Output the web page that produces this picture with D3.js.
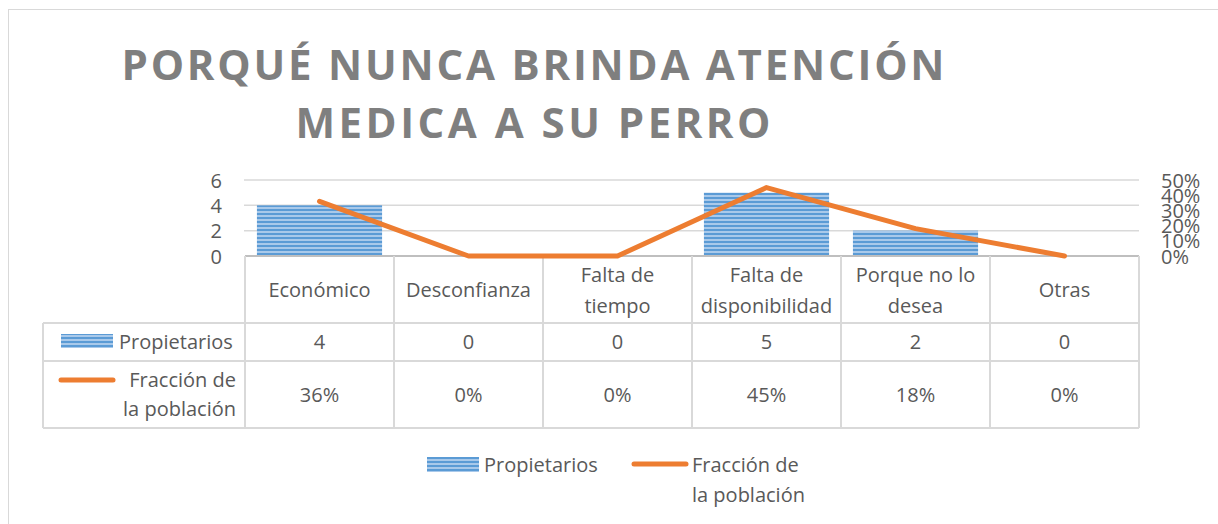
<!DOCTYPE html>
<html>
<head>
<meta charset="utf-8">
<script src="https://cdn.jsdelivr.net/npm/d3@7"></script>
<style>
    body { margin: 0; background: #fff; }
    svg text { font-family: "Open Sans", "Noto Sans", sans-serif; fill: #595959; }
</style>
</head>
<body>
<div id="chart"></div>
<script>
var categories = ['Económico', 'Desconfianza', 'Falta de tiempo', 'Falta de disponibilidad', 'Porque no lo desea', 'Otras'];
var categoryLines = [['Económico'], ['Desconfianza'], ['Falta de', 'tiempo'], ['Falta de', 'disponibilidad'], ['Porque no lo', 'desea'], ['Otras']];
var propietarios = [4, 0, 0, 5, 2, 0];
var fraccion = [0.36, 0, 0, 0.45, 0.18, 0];
var leftTicks = [0, 2, 4, 6];
var rightTicks = [0, 0.1, 0.2, 0.3, 0.4, 0.5];
var titleLines = ['PORQUÉ NUNCA BRINDA ATENCIÓN', 'MEDICA A SU PERRO'];
var seriesNames = ['Propietarios', ['Fracción de', 'la población']];

var width = 1218,
    height = 524,
    plot = { left: 245, right: 1139, top: 180, bottom: 256 },
    tableLeft = 43,
    rows = [256, 323, 361, 428],
    blue = '#5b9bd5',
    orange = '#ed7d31',
    grid = '#d9d9d9',
    fontSize = '20px';

var svg = d3.select('#chart').append('svg')
    .attr('width', width)
    .attr('height', height);

// striped fill for the bars
var pat = svg.append('defs').append('pattern')
    .attr('id', 'stripes')
    .attr('patternUnits', 'userSpaceOnUse')
    .attr('width', 8).attr('height', 4);
pat.append('rect').attr('width', 8).attr('height', 4).attr('fill', '#a9c9ea');
pat.append('rect').attr('y', 1).attr('width', 8).attr('height', 2).attr('fill', blue);

// chart frame
svg.append('rect')
    .attr('x', 8.5).attr('y', 9.5)
    .attr('width', 1240).attr('height', 540)
    .attr('fill', 'none').attr('stroke', grid).attr('stroke-width', 1);

// title
svg.selectAll('.title')
    .data(titleLines)
    .enter().append('text')
    .attr('class', 'title')
    .attr('x', 533)
    .attr('y', function (d, i) { return 80 + i * 58; })
    .attr('text-anchor', 'middle')
    .attr('textLength', function (d, i) { return i === 0 ? 823 : 475; })
    .attr('lengthAdjust', 'spacing')
    .style('font-size', '42px')
    .style('font-weight', 700)
    .style('fill', '#7f7f7f')
    .text(function (d) { return d; });

var xScale = d3.scaleBand().domain(categories).range([plot.left, plot.right]).paddingInner(0.16).paddingOuter(0.08);
var colScale = d3.scaleBand().domain(categories).range([plot.left, plot.right]);
var yScale = d3.scaleLinear().domain([0, 6]).range([plot.bottom, plot.top]);
var y2Scale = d3.scaleLinear().domain([0, 0.5]).range([plot.bottom, plot.top]);

// gridlines
svg.append('g').selectAll('line')
    .data(leftTicks.slice(1))
    .enter().append('line')
    .attr('x1', plot.left - 1).attr('x2', plot.right)
    .attr('y1', function (d) { return yScale(d); })
    .attr('y2', function (d) { return yScale(d); })
    .attr('stroke', grid).attr('stroke-width', 1.5);

// axes
var yAxis = d3.axisLeft(yScale).tickValues(leftTicks).tickSize(0).tickPadding(0).tickFormat(d3.format('d'));
var gy = svg.append('g').attr('transform', 'translate(222,0)').call(yAxis);
gy.select('.domain').remove();
gy.selectAll('text').style('font-size', fontSize).style('fill', '#595959').attr('dy', '0.35em');

var y2Axis = d3.axisRight(y2Scale).tickValues(rightTicks).tickSize(0).tickPadding(0).tickFormat(d3.format('.0%'));
var gy2 = svg.append('g').attr('transform', 'translate(1161,0)').call(y2Axis);
gy2.select('.domain').remove();
gy2.selectAll('text').style('font-size', fontSize).style('fill', '#595959').attr('dy', '0.35em');

// bars
svg.append('g').selectAll('rect')
    .data(propietarios)
    .enter().append('rect')
    .attr('x', function (d, i) { return xScale(categories[i]); })
    .attr('width', xScale.bandwidth())
    .attr('y', function (d) { return yScale(d); })
    .attr('height', function (d) { return yScale(0) - yScale(d); })
    .attr('fill', 'url(#stripes)');

// data table
var table = svg.append('g');
table.append('line')
    .attr('x1', plot.left).attr('x2', plot.right)
    .attr('y1', rows[0]).attr('y2', rows[0])
    .attr('stroke', '#bfbfbf').attr('stroke-width', 2);
rows.slice(1).forEach(function (r) {
    table.append('line')
        .attr('x1', tableLeft).attr('x2', plot.right)
        .attr('y1', r).attr('y2', r)
        .attr('stroke', grid).attr('stroke-width', 2);
});
table.append('line')
    .attr('x1', tableLeft).attr('x2', tableLeft)
    .attr('y1', rows[1]).attr('y2', rows[3])
    .attr('stroke', grid).attr('stroke-width', 2);
categories.forEach(function (c, i) {
    table.append('line')
        .attr('x1', colScale(c)).attr('x2', colScale(c))
        .attr('y1', rows[0]).attr('y2', rows[3])
        .attr('stroke', grid).attr('stroke-width', 2);
});
table.append('line')
    .attr('x1', plot.right).attr('x2', plot.right)
    .attr('y1', rows[0]).attr('y2', rows[3])
    .attr('stroke', grid).attr('stroke-width', 2);

var cx = function (i) { return colScale(categories[i]) + colScale.bandwidth() / 2; };

table.selectAll('.cat')
    .data(categoryLines)
    .enter().append('text')
    .attr('class', 'cat')
    .attr('text-anchor', 'middle')
    .style('font-size', fontSize)
    .each(function (lines, i) {
        var t = d3.select(this);
        var y0 = lines.length === 1 ? 297 : 282;
        lines.forEach(function (l, j) {
            t.append('tspan').attr('x', cx(i)).attr('y', y0 + j * 31).text(l);
        });
    });

table.selectAll('.val')
    .data(propietarios)
    .enter().append('text')
    .attr('class', 'val')
    .attr('x', function (d, i) { return cx(i); })
    .attr('y', 349)
    .attr('text-anchor', 'middle')
    .style('font-size', fontSize)
    .text(function (d) { return d; });

table.selectAll('.pct')
    .data(fraccion)
    .enter().append('text')
    .attr('class', 'pct')
    .attr('x', function (d, i) { return cx(i); })
    .attr('y', 402)
    .attr('text-anchor', 'middle')
    .style('font-size', fontSize)
    .text(function (d) { return d3.format('.0%')(d); });

// row headers
table.append('rect')
    .attr('x', 61).attr('y', 334).attr('width', 52).attr('height', 14)
    .attr('fill', 'url(#stripes)');
table.append('text')
    .attr('x', 119).attr('y', 349)
    .style('font-size', fontSize)
    .text(seriesNames[0]);
table.append('line')
    .attr('x1', 61).attr('x2', 113).attr('y1', 380).attr('y2', 380)
    .attr('stroke', orange).attr('stroke-width', 5).attr('stroke-linecap', 'round');
table.append('text')
    .attr('text-anchor', 'end')
    .style('font-size', fontSize)
    .selectAll('tspan')
    .data(seriesNames[1])
    .enter().append('tspan')
    .attr('x', 236)
    .attr('y', function (d, i) { return 387 + i * 29; })
    .text(function (d) { return d; });

// line series
var line = d3.line()
    .x(function (d, i) { return cx(i); })
    .y(function (d) { return y2Scale(d); });
svg.append('path')
    .datum(fraccion)
    .attr('d', line)
    .attr('fill', 'none')
    .attr('stroke', orange)
    .attr('stroke-width', 5)
    .attr('stroke-linecap', 'round')
    .attr('stroke-linejoin', 'round');

// legend
var legend = svg.append('g');
legend.append('rect')
    .attr('x', 427).attr('y', 457).attr('width', 52).attr('height', 15)
    .attr('fill', 'url(#stripes)');
legend.append('text')
    .attr('x', 484).attr('y', 472)
    .style('font-size', fontSize)
    .text(seriesNames[0]);
legend.append('line')
    .attr('x1', 634).attr('x2', 686).attr('y1', 464).attr('y2', 464)
    .attr('stroke', orange).attr('stroke-width', 5).attr('stroke-linecap', 'round');
legend.append('text')
    .style('font-size', fontSize)
    .selectAll('tspan')
    .data(seriesNames[1])
    .enter().append('tspan')
    .attr('x', 692)
    .attr('y', function (d, i) { return 472 + i * 30; })
    .text(function (d) { return d; });
</script>
</body>
</html>
